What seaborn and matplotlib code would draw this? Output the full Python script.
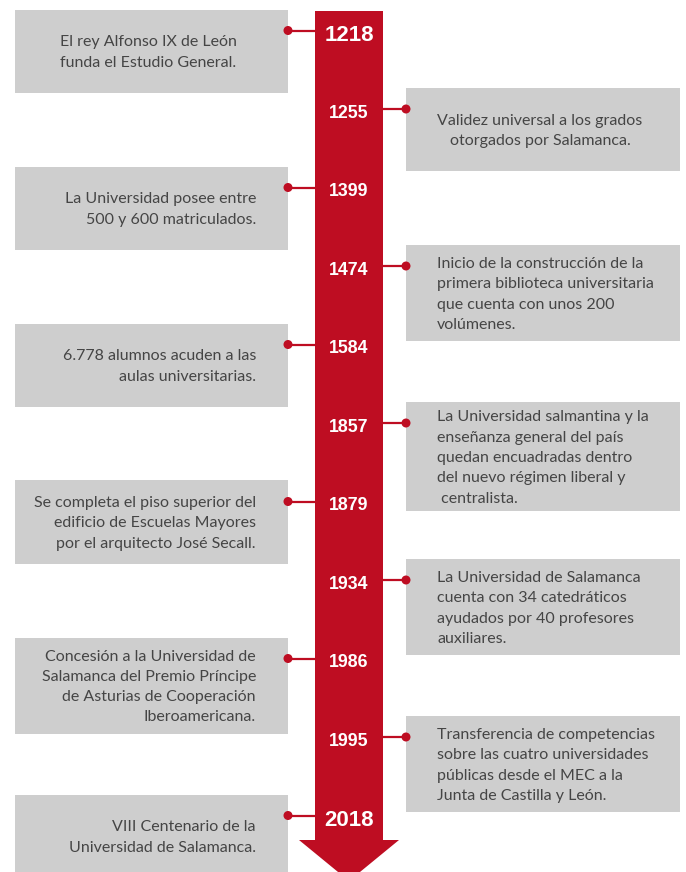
import numpy as np
import pandas as pd
import matplotlib
matplotlib.use("Agg")
import matplotlib.pyplot as plt
from matplotlib.patches import Polygon, Rectangle
import seaborn as sns

# timeline data
years = [1218, 1255, 1399, 1474, 1584, 1857, 1879, 1934, 1986, 1995, 2018]
events = [
    "El rey Alfonso IX de León\nfunda el Estudio General.",
    "Validez universal a los grados\notorgados por Salamanca.",
    "La Universidad posee entre\n500 y 600 matriculados.",
    "Inicio de la construcción de la\nprimera biblioteca universitaria\nque cuenta con unos 200\nvolúmenes.",
    "6.778 alumnos acuden a las\naulas universitarias.",
    "La Universidad salmantina y la\nenseñanza general del país\nquedan encuadradas dentro\ndel nuevo régimen liberal y\n centralista.",
    "Se completa el piso superior del\nedificio de Escuelas Mayores\npor el arquitecto José Secall.",
    "La Universidad de Salamanca\ncuenta con 34 catedráticos\nayudados por 40 profesores\nauxiliares.",
    "Concesión a la Universidad de\nSalamanca del Premio Príncipe\nde Asturias de Cooperación\nIberoamericana.",
    "Transferencia de competencias\nsobre las cuatro universidades\npúblicas desde el MEC a la\nJunta de Castilla y León.",
    "VIII Centenario de la\nUniversidad de Salamanca.",
]
sides = ["left", "right"] * 5 + ["left"]
text_align = ["center", "center", "right", "left", "right", "left",
              "right", "left", "right", "left", "right"]

df = pd.DataFrame({"year": years, "event": events, "side": sides, "align": text_align})
df["pos"] = np.arange(len(df))  # events are evenly spaced down the arrow

RED = "#BE0D22"
GREY = "#CECECE"
TXT = "#454545"

sns.set_theme(style="white")
plt.rcParams["font.family"] = ["Lato", "DejaVu Sans"]

W, H = 686, 872
step = 78.5      # pixels between two events
top = 33         # pixel row of the first year
px = 1 / step    # one pixel in data units (vertical)

fig = plt.figure(figsize=(W / 100, H / 100), dpi=100)
ax = fig.add_axes([0, 0, 1, 1])

# red arrow
last = df["pos"].max()
y0 = -22 * px
y_head = last + 22 * px
y_tip = last + 63 * px
arrow = Polygon([(315, y0), (383, y0), (383, y_head), (399, y_head), (349, y_tip),
                 (299, y_head), (315, y_head)], closed=True, facecolor=RED, lw=0, zorder=2)
ax.add_patch(arrow)

df["dot_x"] = np.where(df["side"] == "left", 288, 406)
df["dot_y"] = df["pos"] - 2.5 * px

# grey boxes + text
for _, r in df.iterrows():
    lines = r["event"].split("\n")
    n = len(lines)
    h = 83 + max(0, n - 3) * 13
    box_top = r["dot_y"] - 21 * px
    x0, x1 = (15, 288) if r["side"] == "left" else (406, 680)
    ax.add_patch(Rectangle((x0, box_top), x1 - x0, h * px, facecolor=GREY, lw=0, zorder=1))
    # connector to the arrow
    if r["side"] == "left":
        ax.plot([288, 316], [r["dot_y"]] * 2, color=RED, lw=1.6, zorder=3, solid_capstyle="butt")
    else:
        ax.plot([382, 406], [r["dot_y"]] * 2, color=RED, lw=1.6, zorder=3, solid_capstyle="butt")

    if r["align"] == "center":
        tx, ha = (x0 + x1) / 2 - 3, "center"
    elif r["align"] == "right":
        tx, ha = 256, "right"
    else:
        tx, ha = 437, "left"
    c = box_top + h * px / 2
    for k, line in enumerate(lines):
        yb = c + ((k - (n - 1) / 2) * 20.3 + 5.5) * px
        ax.text(tx, yb, line, ha=ha, va="baseline", fontsize=11.5, color=TXT, zorder=4)

sns.scatterplot(data=df, x="dot_x", y="dot_y", color=RED, s=42, edgecolor="none",
                legend=False, ax=ax, zorder=5)

# year labels on the arrow
for _, r in df.iterrows():
    big = r["pos"] in (0, last)
    size = 16 if big else 12.8
    off = 8 if big else 6.4
    ax.text(349, r["pos"] + off * px, str(r["year"]), ha="center", va="baseline",
            fontsize=size, fontweight="bold", color="white", family="Liberation Sans", zorder=6)

ax.set_xlim(0, W)
ax.set_ylim((H - top) * px, -top * px)
ax.axis("off")

fig.savefig("out.png", dpi=100, facecolor="white")
